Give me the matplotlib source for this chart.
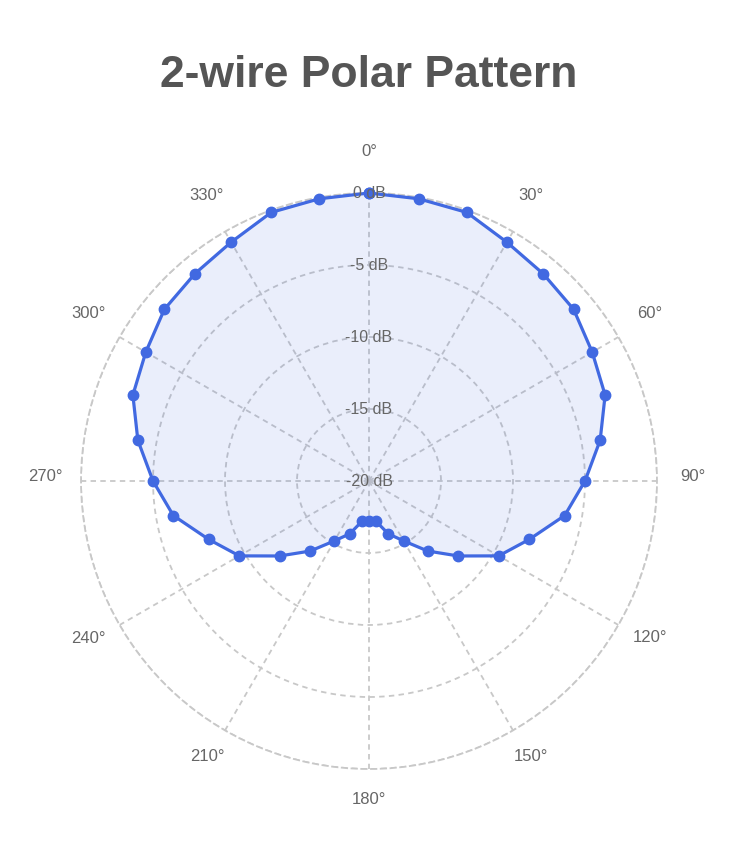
import numpy as np
import matplotlib
matplotlib.use("Agg")
import matplotlib.pyplot as plt

# ---- data ----
angles_deg = list(range(0, 360, 10))
levels_db = [0.0, -0.1, -0.15, -0.85, -1.2, -1.45, -2.1, -2.55, -3.7,
             -5.0, -6.2, -8.15, -9.6, -11.9, -13.65, -15.2, -16.1, -17.15,
             -17.2,
             -17.15, -16.1, -15.2, -13.65, -11.9, -9.6, -8.15, -6.2,
             -5.0, -3.7, -2.55, -2.1, -1.45, -1.2, -0.85, -0.15, -0.1]
theta_ticks = list(range(0, 360, 30))
theta_labels = [f"{a}°" for a in theta_ticks]
r_ticks = [-20, -15, -10, -5, 0]
r_labels = [f"{v} dB" for v in r_ticks]
title = "2-wire Polar Pattern"

plt.rcParams['font.family'] = ['Liberation Sans', 'DejaVu Sans']

fig = plt.figure(figsize=(7.29, 8.42), dpi=100)
W, H = 729, 842
cx, cy, R = 369, 481, 288
ax = fig.add_axes([(cx - R) / W, (H - cy - R) / H, 2 * R / W, 2 * R / H],
                  projection='polar')
ax.set_theta_zero_location('N')
ax.set_theta_direction(-1)
ax.set_ylim(-20, 0)

grid_color = '#c8c8c8'
dash = (0, (3, 2.4))
ax.set_thetagrids(theta_ticks, [''] * len(theta_ticks))
ax.set_yticks(r_ticks[1:])
ax.set_yticklabels([])
ax.grid(True, color=grid_color, linestyle=dash, linewidth=1.3)
ax.spines['polar'].set_color(grid_color)
ax.spines['polar'].set_linestyle(dash)
ax.spines['polar'].set_linewidth(1.3)
ax.tick_params(axis='x', length=0)

# angular labels outside the circle
label_gap = 36
for a, lab in zip(theta_ticks, theta_labels):
    t = np.deg2rad(a)
    ax.annotate(lab, xy=(t, r_ticks[-1]),
                xytext=(label_gap * np.sin(t), label_gap * np.cos(t) + 5),
                textcoords='offset pixels', ha='center', va='center',
                fontsize=12, color='#666666', annotation_clip=False)

th = np.deg2rad(angles_deg + [angles_deg[0]])
rr = levels_db + [levels_db[0]]
ax.fill(th, rr, color='#4169E1', alpha=0.11, linewidth=0, zorder=2)
ax.plot(th, rr, color='#4169E1', linewidth=2.3, marker='o', markersize=7.5,
        zorder=3, clip_on=False)

for v, lab in zip(r_ticks, r_labels):
    ax.text(0, v, lab, ha='center', va='center', fontsize=11.5,
            color='#666666', zorder=4)

fig.text(cx / W, 1 - 87 / H, title, ha='center', va='baseline',
         fontsize=32, fontweight='bold', color='#555555')

fig.savefig('out.png', dpi=100)
